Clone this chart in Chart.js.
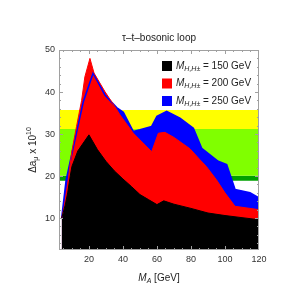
<!DOCTYPE html>
<html>
<head>
<meta charset="utf-8">
<script src="https://cdn.jsdelivr.net/npm/chart.js@4.4.0/dist/chart.umd.min.js"></script>
<style>
  html, body { margin: 0; padding: 0; background: #fff; }
</style>
</head>
<body>
<canvas id="loopChart" width="300" height="300"></canvas>
<script>
const FONT = '"Liberation Sans", Arial, sans-serif';

// axis ticks
const xTicks = [20, 40, 60, 80, 100, 120];
const yTicks = [10, 20, 30, 40, 50];

// charged/heavy Higgs masses (GeV) and colours
const massLabels = ['150', '200', '250'];
const areaColors = ['#000000', '#ff0000', '#0000ff'];

// M_H = 150 GeV
const x150 = [4, 6, 7.5, 8.8, 10, 13.5, 20, 25, 30, 35, 40, 45, 50, 55, 60, 64, 70, 80, 90, 100, 110, 120];
const y150 = [10, 13, 16, 19.5, 22.3, 26, 29.8, 26.3, 23.5, 21.2, 19.3, 17.5, 15.6, 14.4, 13.2, 14.1, 13.3, 12.3, 11.2, 10.6, 10.1, 9.6];

// M_H = 200 GeV
const x200 = [4, 5.5, 7.8, 10, 12.7, 15.7, 17.6, 20.6, 23, 29.4, 35.3, 38.2, 46.1, 56.9, 60.8, 64.7, 70, 79.4, 85, 89, 95, 100, 105.9, 120];
const y200 = [10, 12.8, 19.1, 26, 31.8, 38, 43.6, 48, 44.5, 40.1, 36.5, 34.6, 30.2, 25.8, 30.2, 30.4, 29.2, 26.5, 24, 22.3, 19.1, 16, 12.8, 12];

// M_H = 250 GeV
const x250 = [4, 6.6, 10.5, 16.7, 22.5, 29.4, 36.3, 40.2, 46.1, 50, 56.9, 60, 65.7, 73.5, 81.4, 86.3, 96, 101, 105.9, 114.7, 120];
const y250 = [10, 19, 26.3, 37.7, 44.5, 39.3, 36.3, 35.2, 30.6, 31, 31.8, 34.2, 35.4, 33.8, 31.4, 26.6, 23.5, 22.7, 16.8, 16, 14.8];

// experimental bands (lower, upper)
const bandYellow = [31.2, 35.7];
const bandGreen = [20.1, 31.2];
const bandDark = [18.9, 20.1];
const bandColors = ['#ffff00', '#80ff00', '#00a000'];

const xMin = 2.4, xMax = 120, yMin = 2.4, yMax = 50;

function zip(xs, ys) {
  return xs.map((x, i) => ({ x: x, y: ys[i] }));
}

function areaSet(xs, ys, i) {
  return {
    label: massLabels[i],
    data: zip(xs, ys),
    borderColor: areaColors[i],
    backgroundColor: areaColors[i],
    borderWidth: i === 2 ? 1.6 : 1,
    pointRadius: 0,
    tension: 0,
    fill: 'origin'
  };
}

function bandSet(band, color) {
  return {
    label: '',
    data: [{ x: xMin, y: band[1] }, { x: xMax, y: band[1] }],
    borderWidth: 0,
    borderColor: 'rgba(0,0,0,0)',
    backgroundColor: color,
    pointRadius: 0,
    fill: { value: band[0] }
  };
}

// draw text with italic / subscript / superscript pieces
function richText(ctx, parts, x, y, size, align) {
  const fontOf = p => {
    const s = p[1] === 'sub' || p[1] === 'isub' || p[1] === 'sup' ? size * 0.7 : size;
    const it = p[1] === 'i' || p[1] === 'isub' ? 'italic ' : '';
    return it + s + 'px ' + FONT;
  };
  let total = 0;
  parts.forEach(p => { ctx.font = fontOf(p); total += ctx.measureText(p[0]).width; });
  let cx = align === 'center' ? x - total / 2 : x;
  ctx.textBaseline = 'middle';
  ctx.textAlign = 'left';
  parts.forEach(p => {
    ctx.font = fontOf(p);
    let dy = 0;
    if (p[1] === 'sub' || p[1] === 'isub') dy = size * 0.3;
    if (p[1] === 'sup') dy = -size * 0.4;
    ctx.fillText(p[0], cx, y + dy);
    cx += ctx.measureText(p[0]).width;
  });
}

const framePlugin = {
  id: 'frame',
  afterDatasetsDraw(chart) {
    const ctx = chart.ctx, a = chart.chartArea;
    const xs = chart.scales.x, ys = chart.scales.y;
    ctx.save();
    ctx.strokeStyle = '#a0a0a0';
    ctx.lineWidth = 1;
    ctx.strokeRect(a.left + 0.5, a.top + 0.5, a.right - a.left - 1, a.bottom - a.top - 1);
    ctx.beginPath();
    for (let v = 5; v < xMax; v += 5) {
      const px = Math.round(xs.getPixelForValue(v)) + 0.5;
      const len = v % 20 === 0 ? 4 : 2;
      ctx.moveTo(px, a.bottom); ctx.lineTo(px, a.bottom - len);
      ctx.moveTo(px, a.top); ctx.lineTo(px, a.top + len);
    }
    for (let v = 4; v < yMax; v += 2) {
      const py = Math.round(ys.getPixelForValue(v)) + 0.5;
      const len = v % 10 === 0 ? 4 : 2;
      ctx.moveTo(a.left, py); ctx.lineTo(a.left + len, py);
      ctx.moveTo(a.right, py); ctx.lineTo(a.right - len, py);
    }
    ctx.stroke();
    ctx.restore();
  },
  afterDraw(chart) {
    const ctx = chart.ctx;
    ctx.save();
    ctx.fillStyle = '#222';
    // legend
    chart.data.datasets.slice(0, 3).forEach((ds, i) => {
      const y = 66 + i * 17.5;
      ctx.fillStyle = ds.backgroundColor;
      ctx.fillRect(162, y - 5, 10, 10);
      ctx.fillStyle = '#222';
      richText(ctx, [['M', 'i'], ['H,H\u00b1', 'isub'], [' = ' + ds.label + ' GeV', '']], 176, y, 10, 'left');
    });
    // x title
    richText(ctx, [['M', 'i'], ['A', 'isub'], [' [GeV]', '']], 159, 278, 10, 'center');
    // y title
    ctx.translate(33, 150);
    ctx.rotate(-Math.PI / 2);
    richText(ctx, [['\u0394a', ''], ['\u03bc', 'sub'], [' x 10', ''], ['10', 'sup']], 0, 0, 10, 'center');
    ctx.restore();
  }
};

new Chart(document.getElementById('loopChart'), {
  type: 'line',
  data: {
    datasets: [
      areaSet(x150, y150, 0),
      areaSet(x200, y200, 1),
      areaSet(x250, y250, 2),
      bandSet(bandYellow, bandColors[0]),
      bandSet(bandGreen, bandColors[1]),
      bandSet(bandDark, bandColors[2])
    ]
  },
  options: {
    responsive: false,
    animation: false,
    devicePixelRatio: 1,
    layout: { padding: { right: 41 } },
    plugins: {
      legend: { display: false },
      tooltip: { enabled: false },
      filler: { drawTime: 'beforeDatasetsDraw' },
      title: {
        display: true,
        fullSize: false,
        text: '\u03c4\u2013t\u2013bosonic loop',
        color: '#222',
        font: { family: FONT, size: 10, weight: 'normal' },
        padding: { top: 32, bottom: 6 }
      }
    },
    scales: {
      x: {
        type: 'linear',
        min: xMin,
        max: xMax,
        afterBuildTicks: s => { s.ticks = xTicks.map(v => ({ value: v })); },
        afterFit: s => { s.height = 50; },
        grid: { display: false, drawTicks: false },
        border: { display: false },
        ticks: { color: '#333', padding: 4, maxRotation: 0, font: { family: FONT, size: 9 } }
      },
      y: {
        min: yMin,
        max: yMax,
        afterBuildTicks: s => { s.ticks = yTicks.map(v => ({ value: v })); },
        afterFit: s => { s.width = 59; },
        grid: { display: false, drawTicks: false },
        border: { display: false },
        ticks: { color: '#333', padding: 4, font: { family: FONT, size: 9 } }
      }
    }
  },
  plugins: [framePlugin]
});
</script>
</body>
</html>
